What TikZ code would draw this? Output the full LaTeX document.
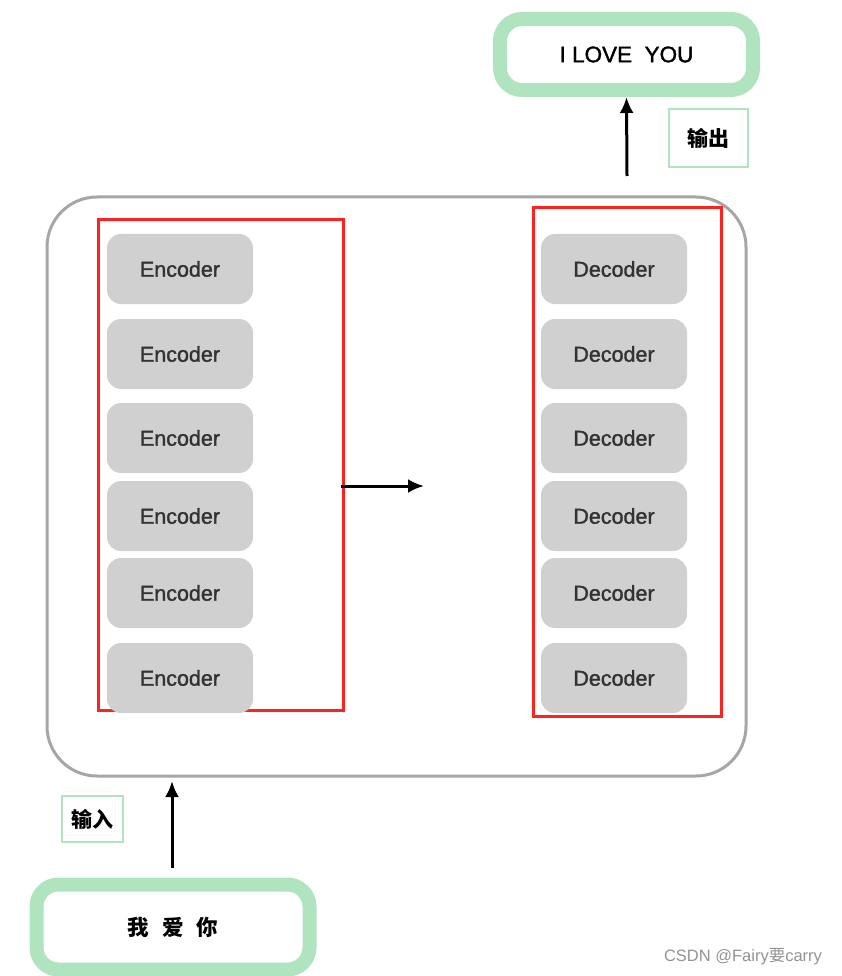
\documentclass[tikz,border=0pt]{standalone}
\usepackage{fontspec}
\usetikzlibrary{arrows.meta}
\setmainfont{Liberation Sans}
\newfontfamily\medium{Liberation Sans}[FakeBold=1.5]
\newfontfamily\cjk{Noto Sans CJK SC}
\definecolor{boxgreen}{HTML}{B0E4BF}
\definecolor{framered}{HTML}{FF2220}
\definecolor{blockgray}{HTML}{D0D0D0}
\definecolor{textgray}{HTML}{333333}
\tikzset{
  block/.style={rectangle, rounded corners=14pt, fill=blockgray, text=textgray,
    minimum width=146pt, minimum height=70pt, font=\medium\fontsize{21.5}{24}\selectfont},
  frame/.style={rectangle, draw=framered, line width=3pt},
  wordbox/.style={rectangle, rounded corners=22pt, draw=boxgreen, line width=14pt,
    fill=white, font=\medium\fontsize{22.5}{26}\selectfont},
  tagbox/.style={rectangle, draw=boxgreen, line width=2pt, font=\cjk\bfseries\fontsize{21}{24}\selectfont},
  flow/.style={-{Latex[length=16pt,width=14pt]}, line width=3pt},
}
\begin{document}
\begin{tikzpicture}[x=1pt,y=-1pt]
  \useasboundingbox (0,0) rectangle (842,976);

  \node[rectangle, rounded corners=50pt, draw=gray!70, line width=3pt,
    minimum width=699pt, minimum height=579pt] (model) at (396.5,486.5) {};

  \node[frame, minimum width=245pt, minimum height=490pt] (encframe) at (220.5,465) {};
  \node[frame, minimum width=188pt, minimum height=508pt] (decframe) at (627,462) {};

  \node[block] (enc1) at (180,269) {Encoder};
  \node[block] (enc2) at (180,354) {Encoder};
  \node[block] (enc3) at (180,438) {Encoder};
  \node[block] (enc4) at (180,516) {Encoder};
  \node[block] (enc5) at (180,593) {Encoder};
  \node[block] (enc6) at (180,678) {Encoder};

  \node[block] (dec1) at (614,269) {Decoder};
  \node[block] (dec2) at (614,354) {Decoder};
  \node[block] (dec3) at (614,438) {Decoder};
  \node[block] (dec4) at (614,516) {Decoder};
  \node[block] (dec5) at (614,593) {Decoder};
  \node[block] (dec6) at (614,678) {Decoder};

  \node[wordbox, minimum width=253pt, minimum height=71pt] (output) at (626.5,54.5) {I LOVE\ \ YOU};
  \node[tagbox, minimum width=79pt, minimum height=58pt] (outtag) at (708.5,138) {输出};

  \node[wordbox, minimum width=273pt, minimum height=85pt, font=\cjk\bfseries\fontsize{21.5}{26}\selectfont]
    (input) at (173,927) {我\hspace{13pt}爱\hspace{13pt}你};
  \node[tagbox, minimum width=61pt, minimum height=46pt] (intag) at (92.5,819) {输入};

  \coordinate (midtail) at (341,486);
  \coordinate (midhead) at (424,486);
  \coordinate (outtail) at (627,176);
  \coordinate (intail) at (172,868);
  \coordinate (inhead) at (172,781);

  \draw[flow] (midtail) -- (midhead);
  \draw[flow] (outtail) -- (output.south);
  \draw[flow] (intail) -- (inhead);

  \node[text=gray!85, font=\fontsize{16.5}{19}\selectfont] (credit) at (743,957) {CSDN @Fairy{\cjk 要}carry};
\end{tikzpicture}
\end{document}
